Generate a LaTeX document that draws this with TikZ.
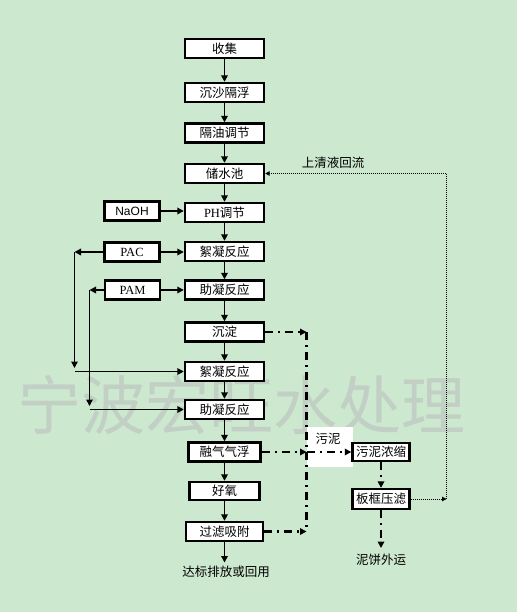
\documentclass[tikz,border=0pt]{standalone}
\usepackage{fontspec}
\setmainfont{Liberation Serif}
\newfontfamily\cjk{Noto Sans CJK SC}
\newfontfamily\arialf{Liberation Sans}
\usetikzlibrary{arrows.meta}
\definecolor{bgc}{RGB}{204,232,207}
\definecolor{wmc}{RGB}{194,207,197}
\begin{document}
\begin{tikzpicture}[x=1pt,y=-1pt,
  proc/.style={draw=black, line width=2.4pt, fill=white, minimum width=79pt, minimum height=19pt, inner sep=0pt,
    font=\cjk\fontsize{12.5}{13}\selectfont},
  side/.style={draw=black, line width=2.4pt, fill=white, minimum width=55pt, minimum height=19pt, inner sep=0pt,
    font=\fontsize{12.5}{13}\selectfont},
  lbl/.style={inner sep=0pt, font=\cjk\fontsize{12.5}{13}\selectfont},
  arr/.style={line width=1.8pt, -{Triangle[length=6.5pt,width=6.5pt]}},
  dd/.style={line width=2.2pt, dash pattern=on 8pt off 5pt on 2pt off 5pt},
  ddarr/.style={dd, -{Triangle[length=6.5pt,width=6.5pt]}},
  dt/.style={line width=1pt, dash pattern=on 1pt off 1pt},
  dtarr/.style={dt, -{Triangle[length=4.5pt,width=4.5pt]}}
]
% background
\fill[bgc] (0,0) rectangle (517,612);
% watermark
\node[text=wmc, anchor=west, inner sep=0pt, font=\cjk\fontsize{64}{64}\selectfont] (wm) at (17,405) {宁波宏旺水处理};
% white patch behind label
\fill[white] (307,427) rectangle (352.5,467);

% main column
\node[proc] (sj) at (224.5,48.5) {收集};
\node[proc] (cs1) at (224.5,92.5) {沉沙隔浮};
\node[proc] (gy) at (224.5,133) {隔油调节};
\node[proc] (csc) at (224.5,173.5) {储水池};
\node[proc] (ph) at (224.5,212.5) {{\rmfamily PH}调节};
\node[proc] (xn1) at (224.5,251.5) {絮凝反应};
\node[proc] (zn1) at (224.5,290) {助凝反应};
\node[proc] (cd) at (224.5,332) {沉淀};
\node[proc] (xn2) at (224.5,371.5) {絮凝反应};
\node[proc] (zn2) at (224.5,409.5) {助凝反应};
\node[proc, minimum width=72pt] (rq) at (224.5,452) {融气气浮};
\node[proc, minimum width=70pt, minimum height=18pt] (hy) at (224.5,491) {好氧};
\node[proc, minimum width=77pt] (gl) at (224.5,531.5) {过滤吸附};
\node[lbl] (db) at (226,572) {达标排放或回用};

% side boxes
\node[side, font=\arialf\fontsize{12}{13}\selectfont] (naoh) at (132,211) {NaOH};
\node[side] (pac) at (132,252) {PAC};
\node[side] (pam) at (132.5,290) {PAM};

% sludge line
\node[proc, minimum width=57pt, minimum height=18pt] (wn) at (381,451.7) {污泥浓缩};
\node[proc, minimum width=57pt, minimum height=20pt] (bk) at (381,499) {板框压滤};
\node[lbl] (nb) at (381,560) {泥饼外运};
\node[lbl] (wnl) at (328,438.5) {污泥};
\node[lbl] (sq) at (333,162.5) {上清液回流};

% main arrows
\draw[arr] (sj) -- (cs1);
\draw[arr] (cs1) -- (gy);
\draw[arr] (gy) -- (csc);
\draw[arr] (csc) -- (ph);
\draw[arr] (ph) -- (xn1);
\draw[arr] (xn1) -- (zn1);
\draw[arr] (zn1) -- (cd);
\draw[arr] (cd) -- (xn2);
\draw[arr] (xn2) -- (zn2);
\draw[arr] (zn2) -- (rq);
\draw[arr] (rq) -- (hy);
\draw[arr] (hy) -- (gl);
\draw[arr, shorten >=3.5pt] (gl.south) -- (db.north -| gl.south);

% dosing arrows
\draw[arr] (naoh.east) -- (naoh.east -| ph.west);
\draw[arr] (pac.east) -- (pac.east -| xn1.west);
\draw[arr] (pam.east) -- (pam.east -| zn1.west);

\coordinate (c1) at (74.5,252);
\coordinate (c2) at (74.5,368);
\coordinate (c3) at (74.5,371.5);
\draw[arr] (pac.west) -- (c1);
\draw[arr] (c1) -- (c2);
\draw[arr] (c3) -- (c3 -| xn2.west);

\coordinate (c4) at (89.5,290);
\coordinate (c5) at (89.5,406);
\coordinate (c6) at (89.5,409.5);
\draw[arr] (pam.west) -- (c4);
\draw[arr] (c4) -- (c5);
\draw[arr] (c6) -- (c6 -| zn2.west);

% sludge collection (dash-dot)
\coordinate (v1) at (306.5,332);
\coordinate (v2) at (306.5,452);
\coordinate (v3) at (306.5,531.5);
\draw[dd] (v1) -- (v3);
\draw[ddarr] (cd.east) -- (v1);
\draw[ddarr] (rq.east) -- (rq.east -| v1);
\draw[ddarr] (gl.east) -- (gl.east -| v1);
\draw[ddarr] (v2) -- (v2 -| wn.west);
\draw[ddarr] (wn) -- (bk);
\draw[ddarr, shorten >=6pt] (bk.south) -- (nb.north);

% supernatant return (dotted)
\coordinate (r1) at (446.5,499);
\draw[dtarr] (bk.east) -- (r1);
\draw[dtarr] (r1) |- (csc.east);
\end{tikzpicture}
\end{document}
